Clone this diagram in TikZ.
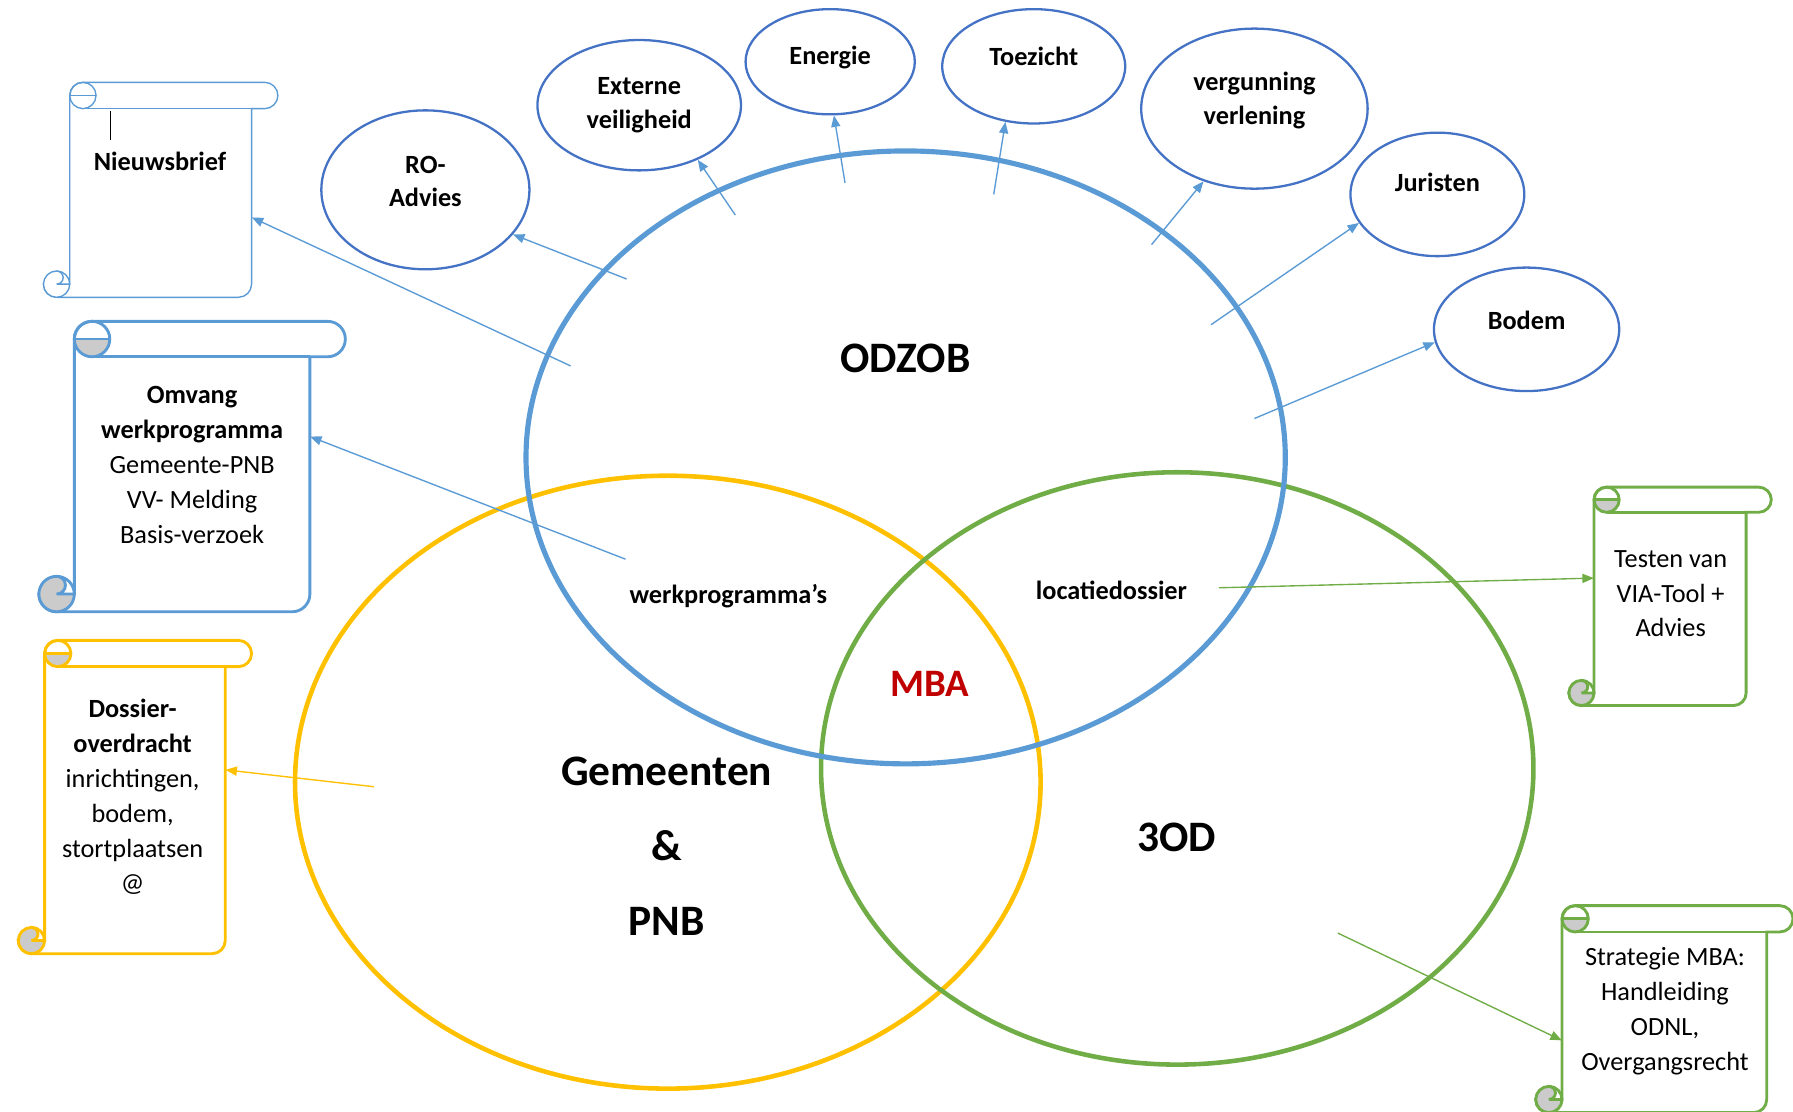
\documentclass[tikz,border=0pt]{standalone}
\usepackage{fontspec}
\setmainfont{Carlito}
\usepackage{tikz}
\usetikzlibrary{positioning}
\usetikzlibrary{shapes.geometric}
\usetikzlibrary{arrows.meta}
\usepackage{xcolor}

\definecolor{ringblue}{HTML}{5B9BD5}
\definecolor{ovalblue}{HTML}{4472C4}
\definecolor{ringyellow}{HTML}{FFC000}
\definecolor{ringgreen}{HTML}{70AD47}
\definecolor{mbared}{HTML}{C00000}
\definecolor{curlgrey}{HTML}{CBCBCB}

% scroll: name, left, top, right, bottom, roll size, line style, curl fill
\newcommand{\scrollbox}[8]{%
  \pgfmathsetmacro{\sbL}{#2}\pgfmathsetmacro{\sbT}{#3}%
  \pgfmathsetmacro{\sbR}{#4}\pgfmathsetmacro{\sbB}{#5}%
  \pgfmathsetmacro{\sbC}{#6}\pgfmathsetmacro{\sbH}{#6/2}\pgfmathsetmacro{\sbQ}{#6/4}%
  \pgfmathsetmacro{\sbW}{#4-#2-2*#6}\pgfmathsetmacro{\sbV}{#5-#3-#6}%
  % body and top roll
  \filldraw[fill=white, #7] (\sbL+\sbC,\sbB-\sbH) -- (\sbL+\sbC,\sbT+\sbH)
    arc[start angle=180, delta angle=90, radius=\sbH] -- (\sbR-\sbH,\sbT)
    arc[start angle=270, delta angle=180, radius=\sbH] -- (\sbR-\sbC,\sbT+\sbC)
    -- (\sbR-\sbC,\sbB-\sbH) arc[start angle=0, delta angle=90, radius=\sbH]
    -- (\sbL+\sbH,\sbB) arc[start angle=90, delta angle=90, radius=\sbH] -- cycle;
  \draw[#7] (\sbR-\sbC,\sbT+\sbC) -- (\sbL+1.5*\sbC,\sbT+\sbC);
  % top curl
  \fill[#8] (\sbL+\sbC,\sbT+\sbH) arc[start angle=180, delta angle=-180, radius=\sbH] -- cycle;
  \draw[#7] (\sbL+1.5*\sbC,\sbT+\sbH) circle[radius=\sbH];
  \draw[#7] (\sbL+\sbC,\sbT+\sbH) -- (\sbL+2*\sbC,\sbT+\sbH);
  % bottom curl
  \fill[#8] (\sbL+\sbH,\sbB-\sbH) circle[radius=\sbH];
  \fill[white] (\sbL+\sbH,\sbB-\sbC) arc[start angle=270, delta angle=180, radius=\sbQ]
    -- (\sbL+\sbC,\sbB-\sbH) arc[start angle=0, delta angle=-90, radius=\sbH] -- cycle;
  \draw[#7] (\sbL+\sbH,\sbB-\sbH) circle[radius=\sbH];
  \draw[#7] (\sbL+\sbH,\sbB-\sbC) arc[start angle=270, delta angle=180, radius=\sbQ]
    -- (\sbL+\sbC,\sbB-\sbH);
  % body as a node for the arrows
  \node[inner sep=0pt, minimum width=\sbW pt, minimum height=\sbV pt] (#1)
    at ({(\sbL+\sbR)/2},{(\sbT+\sbC+\sbB)/2}) {};
}

\begin{document}
\begin{tikzpicture}
[x=1pt, y=-1pt,
% The ring style is used for the three big circles
ring/.style={ellipse, inner sep=0pt, line width=4pt},
% The oval style is used for the tasks around ODZOB
oval/.style={ellipse, draw=ovalblue, line width=2pt, inner sep=0pt, align=center, text depth=12pt, font=\fontsize{23}{29.5}\selectfont\bfseries},
biglabel/.style={font=\fontsize{38}{65.5}\selectfont\bfseries, align=center, inner sep=0pt, anchor=base},
midlabel/.style={font=\fontsize{23}{28}\selectfont\bfseries, inner sep=0pt, anchor=base},
scrolltext/.style={font=\fontsize{23}{30.5}\selectfont, align=center, inner sep=0pt, anchor=base},
bluearrow/.style={draw=ringblue, line width=1.2pt, -{Triangle[length=10pt, width=8pt]}},
yellowarrow/.style={draw=ringyellow, line width=1.2pt, -{Triangle[length=10pt, width=8pt]}},
greenarrow/.style={draw=ringgreen, line width=1.2pt, -{Triangle[length=10pt, width=8pt]}}
]
\useasboundingbox (0,0) rectangle (1568,972);

% Draw rings
\node[ring, draw=ringyellow, minimum width=652pt, minimum height=536pt] (gemring) at (584,684) {};
\node[ring, draw=ringgreen, minimum width=623pt, minimum height=518pt] (odring) at (1029.5,672) {};
\node[ring, draw=ringblue, line width=4.5pt, minimum width=664pt, minimum height=536pt] (odzobring) at (792,400) {};

\node[biglabel] (odzoblabel) at (792,326) {ODZOB};
\node[biglabel] (gemlabel) at (583,818) {Gemeenten\\\&\\PNB};
\node[biglabel] (odlabel) at (1029,745) {3OD};
\node[biglabel, font=\fontsize{34}{40}\selectfont\bfseries, text=mbared] (mba) at (813,609) {MBA};
\node[midlabel] (werkprog) at (637,528) {werkprogramma’s};
\node[midlabel] (locatie) at (972,524) {locatiedossier};

% Draw ovals
\node[oval, text depth=15pt, minimum width=182pt, minimum height=139pt] (ro) at (372,166) {RO-\\Advies};
\node[oval, text depth=4pt, minimum width=178pt, minimum height=114pt] (externe) at (559,92) {Externe\\veiligheid};
\node[oval, minimum width=148pt, minimum height=92pt] (energie) at (726,54) {Energie};
\node[oval, text depth=18pt, minimum width=160pt, minimum height=100pt] (toezicht) at (904,58) {Toezicht};
\node[oval, text depth=18pt, minimum width=198pt, minimum height=140pt] (vergunning) at (1097,95) {vergunning\\verlening};
\node[oval, text depth=22pt, minimum width=152pt, minimum height=108pt] (juristen) at (1257,170) {Juristen};
\node[oval, text depth=16pt, minimum width=162pt, minimum height=108pt] (bodem) at (1335,288) {Bodem};

% Draw scrolls
\scrollbox{nieuws}{38}{72}{243}{260}{23}{draw=ringblue, line width=1.2pt}{white}
\scrollbox{omvang}{34}{281}{302}{535}{31}{draw=ringblue, line width=2.5pt}{curlgrey}
\scrollbox{dossier}{16}{560}{220}{834}{23}{draw=ringyellow, line width=2.5pt}{curlgrey}
\scrollbox{testen}{1372}{426}{1549}{617}{22}{draw=ringgreen, line width=2.5pt}{curlgrey}
\scrollbox{strategie}{1343}{792}{1568}{973}{23}{draw=ringgreen, line width=2.5pt}{curlgrey}

\draw[line width=1pt] (97,97) -- (97,122);
\node[scrolltext] (nieuwstext) at (140,149) {\textbf{Nieuwsbrief}};
\node[scrolltext] (omvangtext) at (168,475) {\textbf{Omvang}\\\textbf{werkprogramma}\\Gemeente-PNB\\VV- Melding\\Basis-verzoek};
\node[scrolltext] (dossiertext) at (116,780) {\textbf{Dossier-}\\\textbf{overdracht}\\inrichtingen,\\bodem,\\stortplaatsen\\@};
\node[scrolltext] (testentext) at (1461,557) {Testen van\\VIA-Tool +\\Advies};
\node[scrolltext] (strategietext) at (1456,936) {Strategie MBA:\\Handleiding\\ODNL,\\Overgangsrecht};

% Draw arrows
\coordinate (nieuwsstart) at (499,320);
\coordinate (rostart) at (548,244);
\coordinate (externestart) at (643,188);
\coordinate (energiestart) at (739,160);
\coordinate (toezichtstart) at (869,170);
\coordinate (vergunningstart) at (1007,214);
\coordinate (juristenstart) at (1059,284);
\coordinate (bodemstart) at (1097,366);
\coordinate (omvangstart) at (547,489);
\coordinate (dossierstart) at (327,688);
\coordinate (testenstart) at (1066,514);
\coordinate (strategiestart) at (1170,816);

\draw[bluearrow] (nieuwsstart) -- (nieuws.-9);
\draw[bluearrow] (rostart) -- (ro.-27);
\draw[bluearrow] (externestart) -- (externe.-43);
\draw[bluearrow] (energiestart) -- (energie.-86);
\draw[bluearrow] (toezichtstart) -- (toezicht.243);
\draw[bluearrow] (vergunningstart) -- (vergunning.235);
\draw[bluearrow] (juristenstart) -- (juristen.200);
\draw[bluearrow] (bodemstart) -- (bodem.188);
\draw[bluearrow] (omvangstart) -- (omvang.22);
\draw[yellowarrow] (dossierstart) -- (dossier.24);
\draw[greenarrow] (testenstart) -- (testen.158);
\draw[greenarrow] (strategiestart) -- (strategie.190);
\end{tikzpicture}
\end{document}
